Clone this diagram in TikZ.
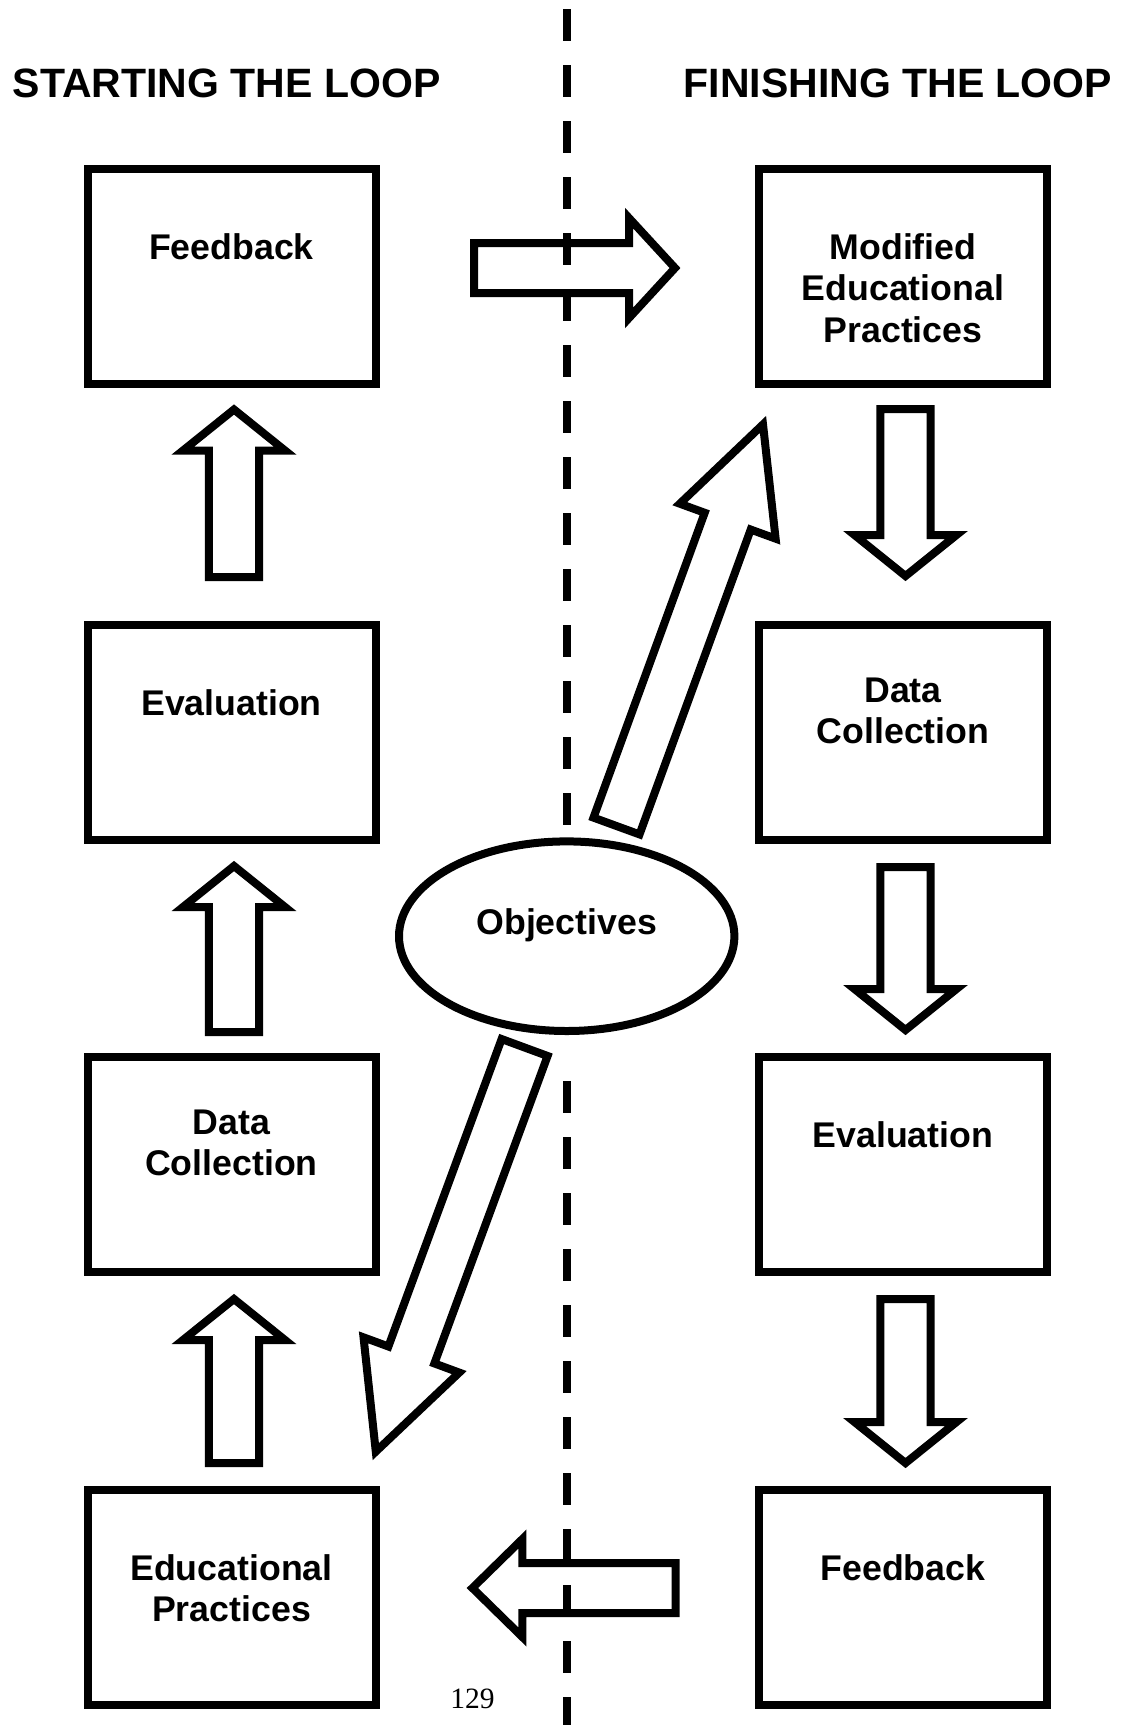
\documentclass[tikz,border=0pt]{standalone}
\usepackage{fontspec}
\setmainfont{Liberation Sans}
\newfontfamily\pagenumfont{Liberation Serif}
\usetikzlibrary{calc,shapes.geometric}

% #1 tail, #2 tip, #3 shaft half width, #4 head half width, #5 head length, #6 name
\newcommand\blockarrow[6]{%
  \coordinate (#6-h) at ($(#2)!#5!(#1)$);
  \draw[blockarr] ($(#1)!#3!90:(#2)$) -- ($(#6-h)!#3!-90:(#1)$) -- ($(#6-h)!#4!-90:(#1)$) -- (#2)
     -- ($(#6-h)!#4!90:(#1)$) -- ($(#6-h)!#3!90:(#1)$) -- ($(#1)!#3!-90:(#2)$) -- cycle;}

\tikzset{
  box/.style={draw, line width=4pt, minimum width=144pt, minimum height=107.5pt, inner sep=0pt, outer sep=0pt},
  lbl/.style={font=\fontsize{17.85pt}{20.75pt}\selectfont\bfseries, align=center, inner sep=0pt},
  heading/.style={font=\fontsize{20.5pt}{24pt}\selectfont\bfseries, inner sep=0pt},
  blockarr/.style={draw, line width=4pt, line join=miter},
  divider/.style={line width=4pt, dash pattern=on 16pt off 12pt},
  objshape/.style={ellipse, draw, line width=4pt, minimum width=167.7pt, minimum height=94.8pt, inner sep=0pt, outer sep=0pt}
}

\begin{document}
\begin{tikzpicture}[x=0.5pt,y=-0.5pt]
\useasboundingbox (0,0) rectangle (1127,1725);

% divider
\coordinate (d1) at (567,9);
\coordinate (d2) at (567,825);
\coordinate (d3) at (567,1081);
\coordinate (d4) at (567,1725);
\draw[divider] (d1) -- (d2);
\draw[divider] (d3) -- (d4);

% headings
\node[heading, anchor=base] (hl) at (226.7,97) {STARTING THE LOOP};
\node[heading, anchor=base] (hr) at (898,97) {FINISHING THE LOOP};

% left column
\node[box] (l1) at (231.5,276.5) {};
\node[box] (l2) at (231.5,732.5) {};
\node[box] (l3) at (231.5,1164.5) {};
\node[box] (l4) at (231.5,1597.5) {};
\node[lbl, anchor=north] (l1t) at ($(l1.north)+(0,64)$) {Feedback};
\node[lbl, anchor=north] (l2t) at ($(l2.north)+(0,64)$) {Evaluation};
\node[lbl, anchor=north] (l3t) at ($(l3.north)+(0,52.4)$) {Data\\Collection};
\node[lbl, anchor=north] (l4t) at ($(l4.north)+(0,64)$) {Educational\\Practices};

% right column
\node[box] (r1) at (903,276.5) {};
\node[box] (r2) at (903,732.5) {};
\node[box] (r3) at (903,1164.5) {};
\node[box] (r4) at (903,1597.5) {};
\node[lbl, anchor=north] (r1t) at ($(r1.north)+(0,64)$) {Modified\\Educational\\Practices};
\node[lbl, anchor=north] (r2t) at ($(r2.north)+(0,52.4)$) {Data\\Collection};
\node[lbl, anchor=north] (r3t) at ($(r3.north)+(0,64)$) {Evaluation};
\node[lbl, anchor=north] (r4t) at ($(r4.north)+(0,64)$) {Feedback};

% objectives
\node[objshape] (obj) at (566.7,936.2) {};
\node[lbl, anchor=base] (objt) at (566.7,934.3) {Objectives};

% arrow end points
\coordinate (ta) at (474,268);     \coordinate (tb) at (675,268);
\coordinate (ba) at (675.5,1588);  \coordinate (bb) at (472.4,1588);
\coordinate (u1a) at (234,577);    \coordinate (u1b) at (234,409.5);
\coordinate (u2a) at (234,1032);   \coordinate (u2b) at (234,866);
\coordinate (u3a) at (234,1463);   \coordinate (u3b) at (234,1299);
\coordinate (v1a) at (905.5,409);  \coordinate (v1b) at (905.5,576);
\coordinate (v2a) at (905.5,867);  \coordinate (v2b) at (905.5,1030);
\coordinate (v3a) at (905.5,1299); \coordinate (v3b) at (905.5,1463);
\coordinate (g1a) at (616.5,826);  \coordinate (g1b) at (763,424.4);
\coordinate (g2a) at (524.6,1047.5); \coordinate (g2b) at (375.8,1451.6);

\blockarrow{ta}{tb}{12.5pt}{25pt}{23pt}{ar1}
\blockarrow{ba}{bb}{12.5pt}{24.5pt}{25pt}{ar2}
\blockarrow{u1a}{u1b}{12.6pt}{25.5pt}{20.5pt}{ar3}
\blockarrow{u2a}{u2b}{12.6pt}{25.5pt}{20.5pt}{ar4}
\blockarrow{u3a}{u3b}{12.6pt}{25.5pt}{20.5pt}{ar5}
\blockarrow{v1a}{v1b}{12.6pt}{25.5pt}{20.5pt}{ar6}
\blockarrow{v2a}{v2b}{12.6pt}{25.5pt}{20.5pt}{ar7}
\blockarrow{v3a}{v3b}{12.6pt}{25.5pt}{20.5pt}{ar8}
\blockarrow{g1a}{g1b}{12.25pt}{25.5pt}{51.5pt}{ar9}
\blockarrow{g2a}{g2b}{12.25pt}{25.5pt}{51.5pt}{ar10}

% page number
\node[anchor=base west, inner sep=0pt, font=\pagenumfont\fontsize{14.75pt}{17pt}\selectfont] (pg) at (450,1708) {129};
\end{tikzpicture}
\end{document}
